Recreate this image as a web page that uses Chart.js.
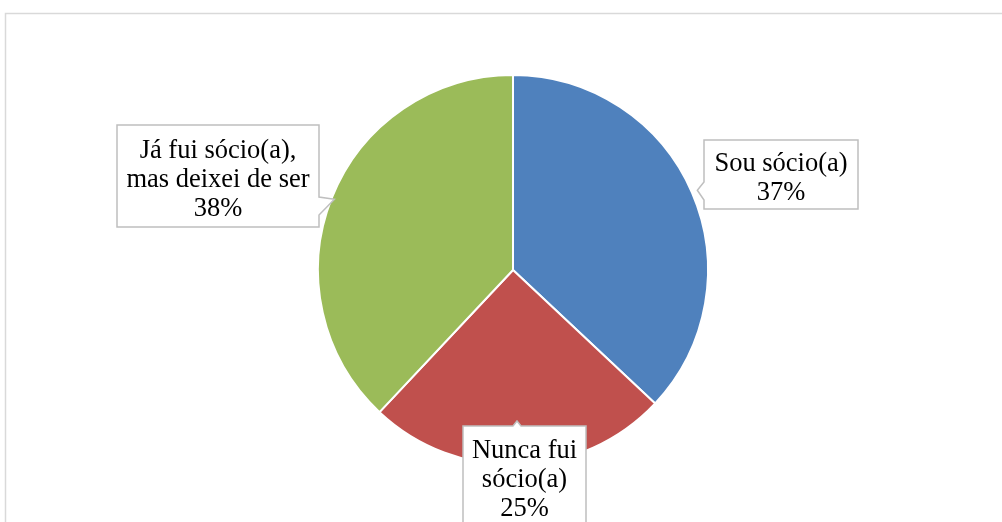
<!DOCTYPE html>
<html>
<head>
<meta charset="utf-8">
<script src="https://cdn.jsdelivr.net/npm/chart.js@4/dist/chart.umd.min.js"></script>
<style>
html,body{margin:0;padding:0;background:#fff;}
#wrap{width:1002px;height:522px;position:relative;overflow:hidden;}
canvas{display:block;}
</style>
</head>
<body>
<div id="wrap"><canvas id="c" width="1002" height="522"></canvas></div>
<script>
// ---- data ----
const categories = ["Sou sócio(a)", "Nunca fui sócio(a)", "Já fui sócio(a), mas deixei de ser"];
const values = [37, 25, 38];
const labelLines = [
  ["Sou sócio(a)"],
  ["Nunca fui", "sócio(a)"],
  ["Já fui sócio(a),", "mas deixei de ser"]
];
const colors = ["#4F81BD", "#C0504D", "#9BBB59"];

// ---- callout layout (styling only) ----
const callouts = [
  { box: [704, 140, 154, 69], notch: { side: "left", a: 182, b: 200 }, tipR: 1.03 },
  { box: [463, 426, 123, 100], notch: { side: "top", a: 513, b: 521 }, tipFixed: [517, 421] },
  { box: [117, 125, 202, 102], notch: { side: "right", a: 197, b: 215 }, tipR: 0.985 }
];

const frame = {
  id: "frame",
  beforeDraw(chart) {
    const ctx = chart.ctx;
    ctx.save();
    ctx.fillStyle = "#fff";
    ctx.fillRect(0, 0, chart.width, chart.height);
    ctx.strokeStyle = "#d9d9d9";
    ctx.lineWidth = 1.5;
    ctx.strokeRect(5.5, 13.5, 1200, 700);
    ctx.restore();
  }
};

const calloutPlugin = {
  id: "callouts",
  afterDatasetsDraw(chart) {
    const ctx = chart.ctx;
    const meta = chart.getDatasetMeta(0);
    const total = values.reduce((a, b) => a + b, 0);
    meta.data.forEach((arc, i) => {
      const c = callouts[i];
      const [x, y, w, h] = c.box;
      let tip;
      if (c.tipFixed) {
        tip = c.tipFixed;
      } else {
        const p = arc.getProps(["x", "y", "startAngle", "endAngle", "outerRadius"], true);
        const mid = (p.startAngle + p.endAngle) / 2;
        tip = [p.x + Math.cos(mid) * p.outerRadius * c.tipR, p.y + Math.sin(mid) * p.outerRadius * c.tipR];
      }
      ctx.save();
      ctx.beginPath();
      const n = c.notch;
      ctx.moveTo(x, y);
      if (n.side === "top") { ctx.lineTo(n.a, y); ctx.lineTo(tip[0], tip[1]); ctx.lineTo(n.b, y); }
      ctx.lineTo(x + w, y);
      if (n.side === "right") { ctx.lineTo(x + w, n.a); ctx.lineTo(tip[0], tip[1]); ctx.lineTo(x + w, n.b); }
      ctx.lineTo(x + w, y + h);
      ctx.lineTo(x, y + h);
      if (n.side === "left") { ctx.lineTo(x, n.b); ctx.lineTo(tip[0], tip[1]); ctx.lineTo(x, n.a); }
      ctx.closePath();
      ctx.fillStyle = "#fff";
      ctx.fill();
      ctx.strokeStyle = "#bfbfbf";
      ctx.lineWidth = 1.5;
      ctx.stroke();

      const lines = labelLines[i].concat([Math.round(values[i] / total * 100) + "%"]);
      const lh = 29;
      ctx.fillStyle = "#000";
      ctx.font = '26.5px "Liberation Serif", "Times New Roman", serif';
      ctx.textAlign = "center";
      ctx.textBaseline = "alphabetic";
      const cy = y + h / 2;
      const first = cy - (lines.length - 1) * lh / 2 + 11;
      lines.forEach((t, k) => ctx.fillText(t, x + w / 2, first + k * lh));
      ctx.restore();
    });
  }
};

new Chart(document.getElementById("c"), {
  type: "pie",
  data: {
    labels: categories,
    datasets: [{
      data: values,
      backgroundColor: colors,
      borderColor: "#ffffff",
      borderWidth: 2
    }]
  },
  options: {
    responsive: false,
    animation: false,
    events: [],
    layout: { padding: { left: 317, right: 293, top: 74, bottom: 56 } },
    plugins: { legend: { display: false }, tooltip: { enabled: false } }
  },
  plugins: [frame, calloutPlugin]
});
</script>
</body>
</html>
